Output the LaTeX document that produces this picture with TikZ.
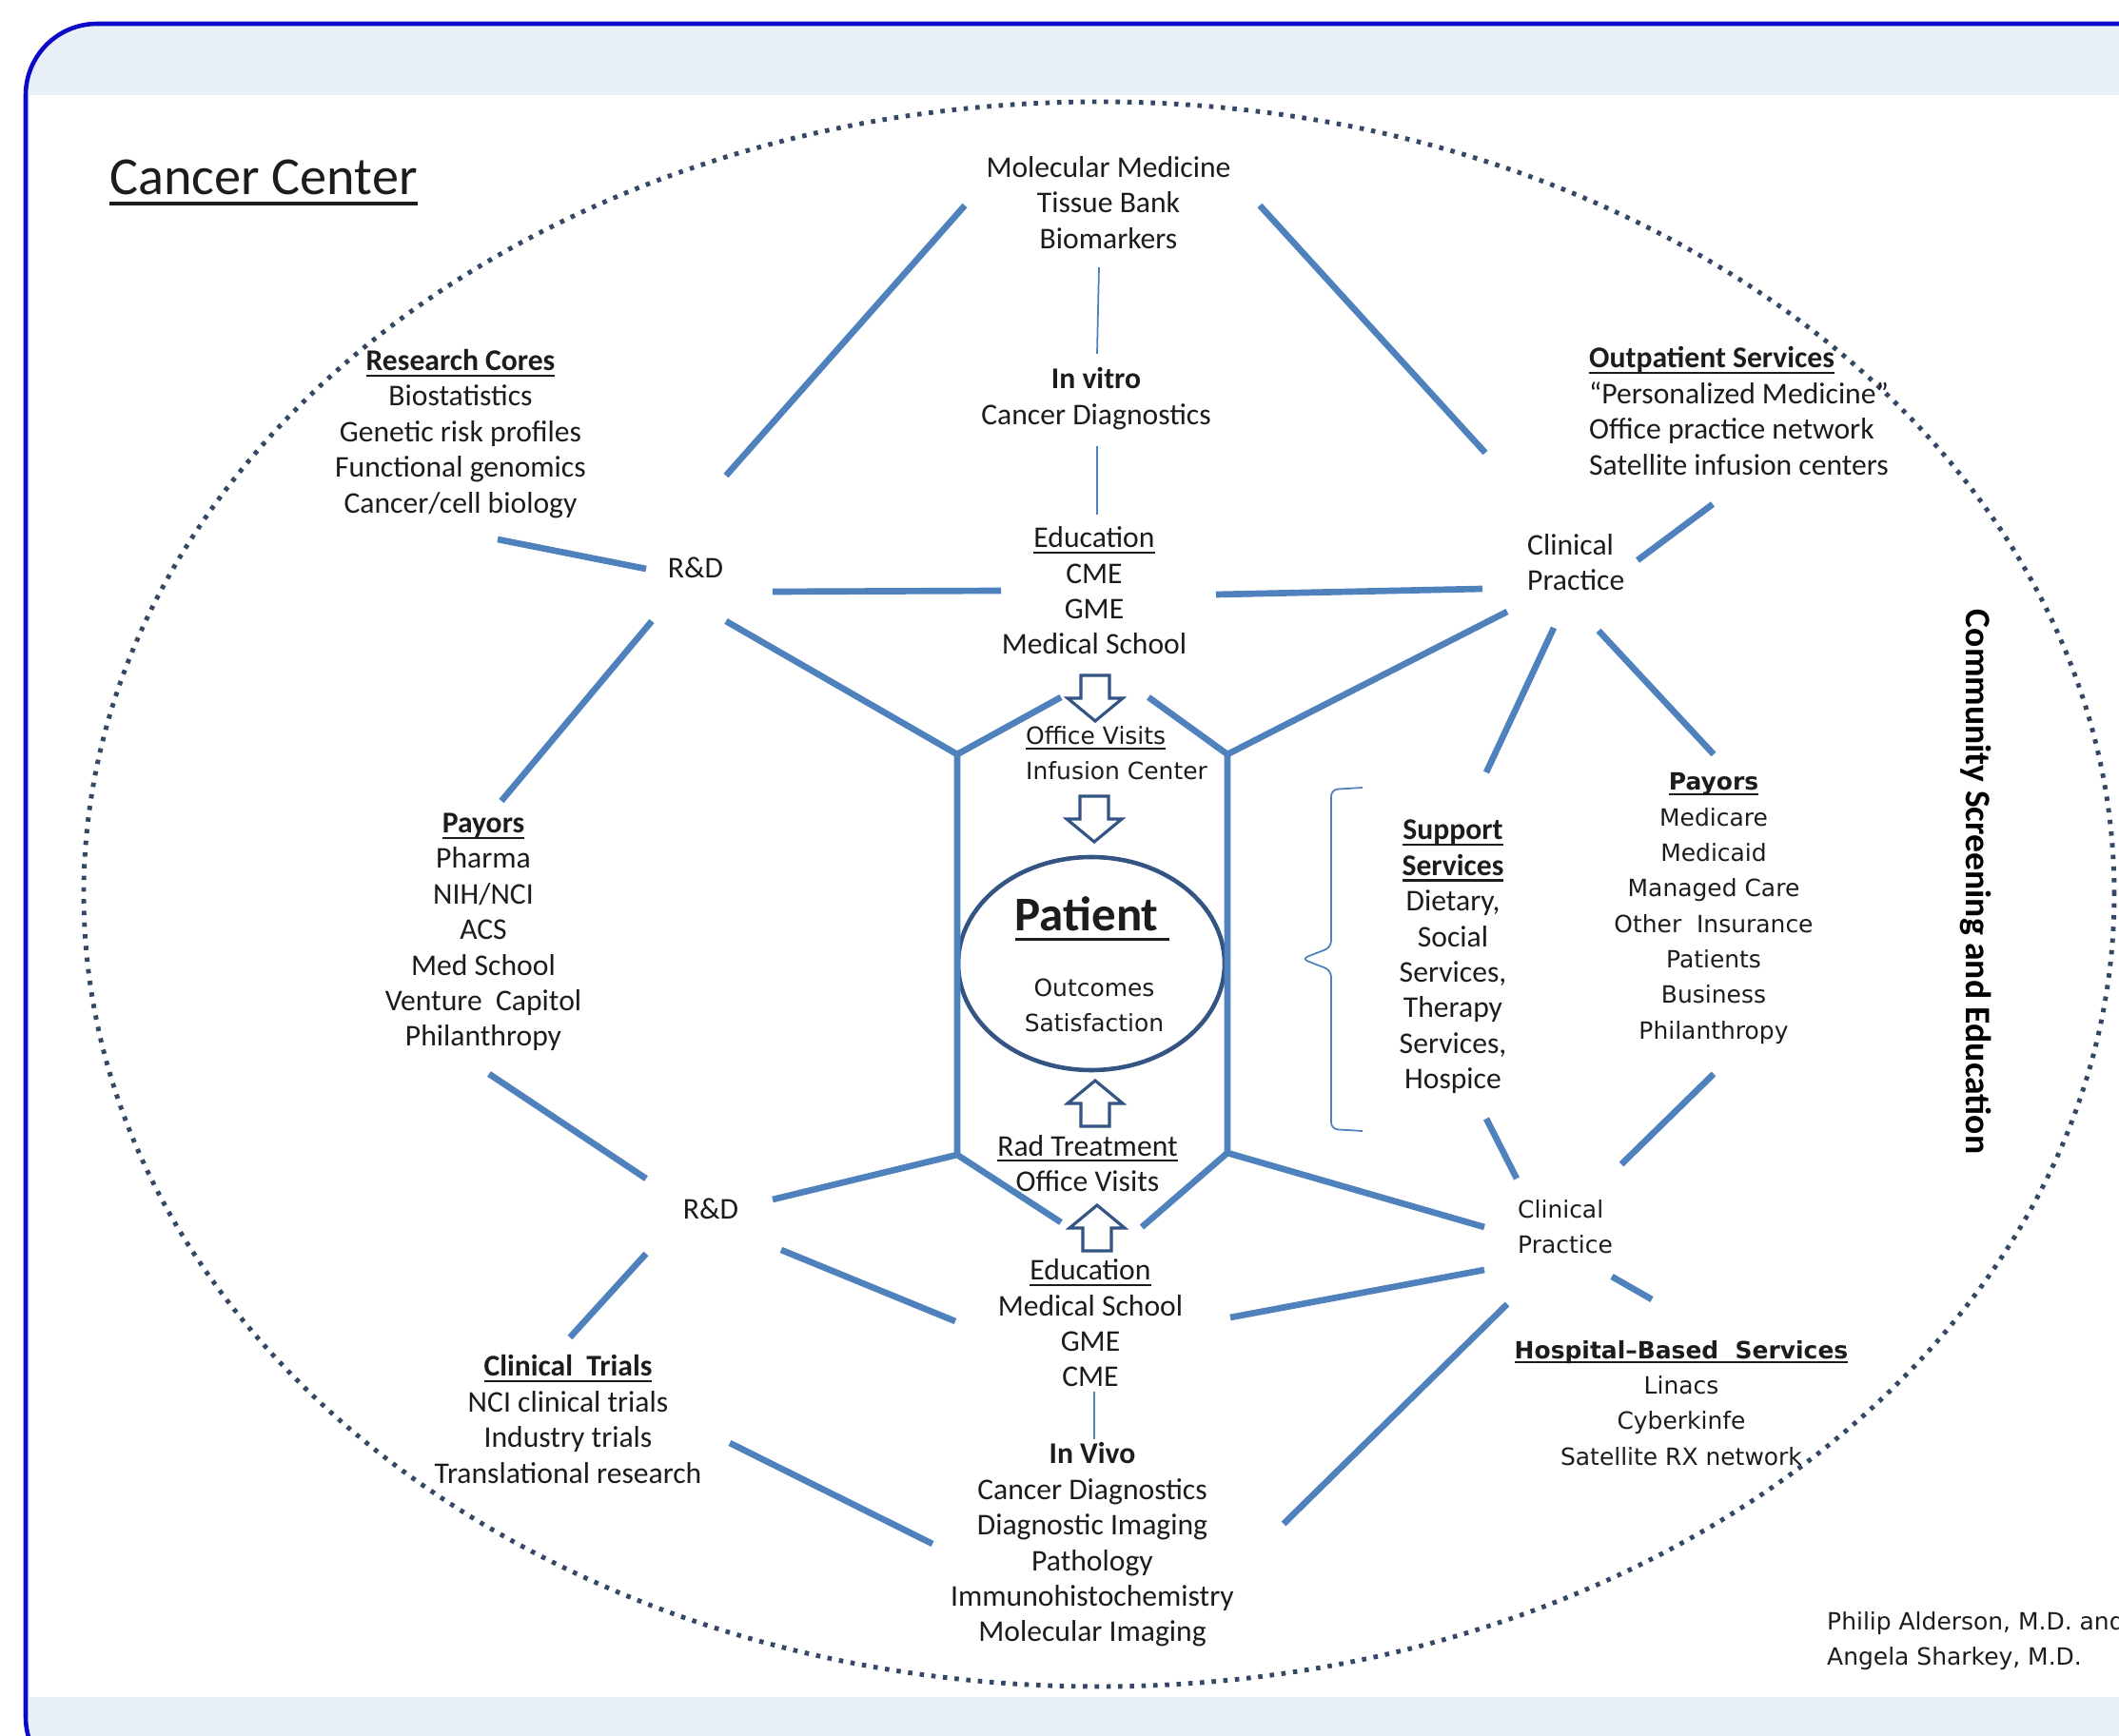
\documentclass[tikz,border=0pt]{standalone}
\usepackage{fontspec}
\setmainfont{Carlito}
\newfontfamily\widefont[Ligatures=TeX]{DejaVu Sans}
\usetikzlibrary{shapes.geometric}
\definecolor{link_blue}{RGB}{79,129,189}
\definecolor{dot_blue}{RGB}{52,72,102}
\definecolor{arrow_blue}{RGB}{52,84,132}
\definecolor{frame_blue}{RGB}{10,10,200}
\definecolor{band_blue}{RGB}{233,240,248}
\definecolor{text_gray}{RGB}{28,28,28}

% underline at a fixed depth below the baseline
\newsavebox{\ulbox}
\newcommand{\undl}[1]{\sbox\ulbox{#1}\rlap{\rule[-0.2em]{\wd\ulbox}{0.07em}}\usebox\ulbox}

\begin{document}
\begin{tikzpicture}[font=\fontsize{9}{10.64}\selectfont,
        lbl/.style={align=center, text=text_gray, inner sep=1pt},
        widelbl/.style={lbl, font=\widefont\fontsize{7.1}{10.64}\selectfont},
        link/.style={draw=link_blue, line width=1.9pt},
        thin_link/.style={draw=link_blue, line width=0.5pt},
        hollowarrow/.pic={\draw[draw=arrow_blue, line width=0.9pt, fill=white]
            (-0.15,0.24) -- (0.15,0.24) -- (0.15,0) -- (0.29,0) -- (0,-0.24) -- (-0.29,0) -- (-0.15,0) -- cycle;}]

    \clip (0,0) rectangle (22.27,-18.25);

    % frame, bands and the dotted boundary
    \draw[frame_blue, line width=1.3pt, fill=band_blue, rounded corners=0.75cm] (0.27,-0.25) rectangle (23.0,-18.8);
    \fill[white] (0.31,-1.00) rectangle (22.27,-17.84);
    \draw[dot_blue, line width=1.4pt, dash pattern=on 1.3pt off 2.2pt] (11.55,-9.40) ellipse [x radius=10.67, y radius=8.33];

    \node[lbl, anchor=west, font=\fontsize{16}{19}\selectfont] (title) at (1.11,-1.92) {\undl{Cancer Center}};

    % upper half
    \node[lbl] (molmed) at (11.65,-2.13) {Molecular Medicine\\Tissue Bank\\Biomarkers};
    \node[lbl] (invitro) at (11.52,-4.19) {\textbf{In vitro}\\Cancer Diagnostics};
    \node[lbl] (rescores) at (4.84,-4.56) {\textbf{\undl{Research Cores}}\\Biostatistics\\Genetic risk profiles\\Functional genomics\\Cancer/cell biology};
    \node[lbl] (rdup) at (7.31,-5.97) {R\&D};
    \node[lbl] (eduup) at (11.50,-6.21) {\undl{Education}\\CME\\GME\\Medical School};
    \node[lbl, align=left, anchor=west] (outpat) at (16.66,-4.32) {\textbf{\undl{Outpatient Services}}\\``Personalized Medicine''\\Office practice network\\Satellite infusion centers};
    \node[lbl, align=left, anchor=west] (clinup) at (16.01,-5.91) {Clinical\\Practice};
    \node[widelbl, align=left, anchor=west] (offvis) at (10.74,-7.92) {\undl{Office Visits}\\Infusion Center};

    % patient in the middle
    \node[ellipse, draw=arrow_blue, line width=1.3pt, minimum width=2.80cm, minimum height=2.24cm, inner sep=0pt] (patient) at (11.47,-10.13) {};
    \node[lbl, anchor=base, font=\bfseries\fontsize{14.5}{16}\selectfont] (patientname) at (11.48,-9.79) {\undl{Patient\ }};
    \node[widelbl] (outcomes) at (11.50,-10.57) {Outcomes\\Satisfaction};

    \node[lbl] (payl) at (5.08,-9.80) {\textbf{\undl{Payors}}\\Pharma\\NIH/NCI\\ACS\\Med School\\Venture~ Capitol\\Philanthropy};
    \node[lbl] (support) at (15.27,-10.06) {\textbf{\undl{Support}}\\\textbf{\undl{Services}}\\Dietary,\\Social\\Services,\\Therapy\\Services,\\Hospice};
    \node[widelbl] (payr) at (18.01,-9.55) {\textbf{\undl{Payors}}\\Medicare\\Medicaid\\Managed Care\\Other~ Insurance\\Patients\\Business\\Philanthropy};
    \node[lbl, text=black, rotate=-90, font=\bfseries\fontsize{10.7}{12}\selectfont] (community) at (20.77,-9.27) {Community Screening and Education};

    % lower half
    \node[lbl] (radtx) at (11.43,-12.23) {\undl{Rad Treatment}\\Office Visits};
    \node[lbl] (rdlow) at (7.47,-12.71) {R\&D};
    \node[widelbl, align=left, anchor=west] (clinlow) at (15.91,-12.90) {Clinical\\Practice};
    \node[lbl] (edulow) at (11.46,-13.91) {\undl{Education}\\Medical School\\GME\\CME};
    \node[lbl] (trials) at (5.97,-14.92) {\textbf{\undl{Clinical~ Trials}}\\NCI clinical trials\\Industry trials\\Translational research};
    \node[widelbl] (hospital) at (17.67,-14.75) {\textbf{\undl{Hospital--Based~ Services}}\\Linacs\\Cyberkinfe\\Satellite RX network};
    \node[lbl] (invivo) at (11.48,-16.24) {\textbf{In Vivo}\\Cancer Diagnostics\\Diagnostic Imaging\\Pathology\\Immunohistochemistry\\Molecular Imaging};
    \node[widelbl, align=left, anchor=west] (authors) at (19.16,-17.25) {Philip Alderson, M.D. and\\Angela Sharkey, M.D.};

    % flow arrows towards the patient
    \pic (arrowa) at (11.51,-7.34) {hollowarrow};
    \pic (arrowb) at (11.50,-8.61) {hollowarrow};
    \pic[rotate=180] (arrowc) at (11.51,-11.60) {hollowarrow};
    \pic[rotate=180] (arrowd) at (11.53,-12.91) {hollowarrow};

    % link ends
    \coordinate (rdup-ne) at (7.63,-5.00);
    \coordinate (mol-sw) at (10.14,-2.16);
    \coordinate (mol-se) at (13.24,-2.16);
    \coordinate (clinup-nw) at (15.61,-4.76);
    \coordinate (mol-s) at (11.55,-2.81);
    \coordinate (invitro-n) at (11.53,-3.72);
    \coordinate (invitro-s) at (11.53,-4.69);
    \coordinate (eduup-n) at (11.53,-5.41);
    \coordinate (rescores-se) at (5.23,-5.67);
    \coordinate (rdup-w) at (6.79,-5.98);
    \coordinate (rdup-e) at (8.12,-6.22);
    \coordinate (eduup-w) at (10.52,-6.21);
    \coordinate (eduup-e) at (12.78,-6.25);
    \coordinate (clinup-w) at (15.58,-6.19);
    \coordinate (clinup-ne) at (17.21,-5.89);
    \coordinate (outpat-sw) at (18.00,-5.30);
    \coordinate (rdup-sw) at (6.85,-6.53);
    \coordinate (payl-ne) at (5.27,-8.42);
    \coordinate (rdup-se) at (7.63,-6.53);
    \coordinate (eduup-sw) at (11.15,-7.33);
    \coordinate (eduup-se) at (12.07,-7.33);
    \coordinate (clinup-sw) at (15.84,-6.43);
    \coordinate (clinup-s) at (16.33,-6.60);
    \coordinate (support-n) at (15.62,-8.12);
    \coordinate (clinup-se) at (16.80,-6.63);
    \coordinate (payr-n) at (18.01,-7.93);
    \coordinate (payl-s) at (5.14,-11.29);
    \coordinate (rdlow-nw) at (6.79,-12.39);
    \coordinate (rdlow-e) at (8.12,-12.61);
    \coordinate (rdlow-se) at (8.21,-13.14);
    \coordinate (rdlow-sw) at (6.79,-13.18);
    \coordinate (edulow-nw) at (11.15,-12.85);
    \coordinate (edulow-ne) at (12.00,-12.90);
    \coordinate (edulow-w) at (10.04,-13.89);
    \coordinate (edulow-e) at (12.93,-13.85);
    \coordinate (edulow-s) at (11.50,-14.63);
    \coordinate (clinlow-w) at (15.60,-12.90);
    \coordinate (clinlow-n) at (15.94,-12.39);
    \coordinate (clinlow-ne) at (17.04,-12.24);
    \coordinate (clinlow-se) at (16.94,-13.42);
    \coordinate (clinlow-sw) at (15.60,-13.35);
    \coordinate (clinlow-s) at (15.84,-13.71);
    \coordinate (support-s) at (15.62,-11.76);
    \coordinate (payr-s) at (18.01,-11.29);
    \coordinate (hospital-n) at (17.36,-13.66);
    \coordinate (trials-n) at (5.99,-14.06);
    \coordinate (trials-e) at (7.67,-15.17);
    \coordinate (invivo-n) at (11.50,-15.13);
    \coordinate (invivo-w) at (9.80,-16.23);
    \coordinate (invivo-ne) at (13.49,-16.02);

    % corners of the frame round the patient
    \coordinate (hex-tl) at (10.06,-7.93);
    \coordinate (hex-tr) at (12.90,-7.93);
    \coordinate (hex-bl) at (10.06,-12.14);
    \coordinate (hex-br) at (12.90,-12.12);

    \draw[link] (rdup-ne) -- (mol-sw);
    \draw[link] (mol-se) -- (clinup-nw);
    \draw[thin_link] (mol-s) -- (invitro-n);
    \draw[thin_link] (invitro-s) -- (eduup-n);
    \draw[link] (rescores-se) -- (rdup-w);
    \draw[link] (rdup-e) -- (eduup-w);
    \draw[link] (eduup-e) -- (clinup-w);
    \draw[link] (clinup-ne) -- (outpat-sw);
    \draw[link] (rdup-sw) -- (payl-ne);
    \draw[link] (clinup-s) -- (support-n);
    \draw[link] (clinup-se) -- (payr-n);
    \draw[link] (payl-s) -- (rdlow-nw);

    \draw[link] (rdup-se) -- (hex-tl) -- (hex-bl) -- (rdlow-e);
    \draw[link] (clinup-sw) -- (hex-tr) -- (hex-br) -- (clinlow-w);
    \draw[link] (eduup-sw) -- (hex-tl);
    \draw[link] (eduup-se) -- (hex-tr);
    \draw[link] (edulow-nw) -- (hex-bl);
    \draw[link] (edulow-ne) -- (hex-br);

    \draw[link] (rdlow-se) -- (edulow-w);
    \draw[link] (rdlow-sw) -- (trials-n);
    \draw[link] (trials-e) -- (invivo-w);
    \draw[thin_link] (edulow-s) -- (invivo-n);
    \draw[link] (edulow-e) -- (clinlow-sw);
    \draw[link] (invivo-ne) -- (clinlow-s);
    \draw[link] (support-s) -- (clinlow-n);
    \draw[link] (payr-s) -- (clinlow-ne);
    \draw[link] (clinlow-se) -- (hospital-n);

    % bracket round the support services
    \draw[draw=link_blue, line width=0.5pt, rounded corners=2pt] (14.32,-8.28) -- (13.99,-8.30) -- (13.99,-9.96) -- (13.68,-10.08) -- (13.99,-10.20) -- (13.99,-11.87) -- (14.32,-11.89);
\end{tikzpicture}
\end{document}
